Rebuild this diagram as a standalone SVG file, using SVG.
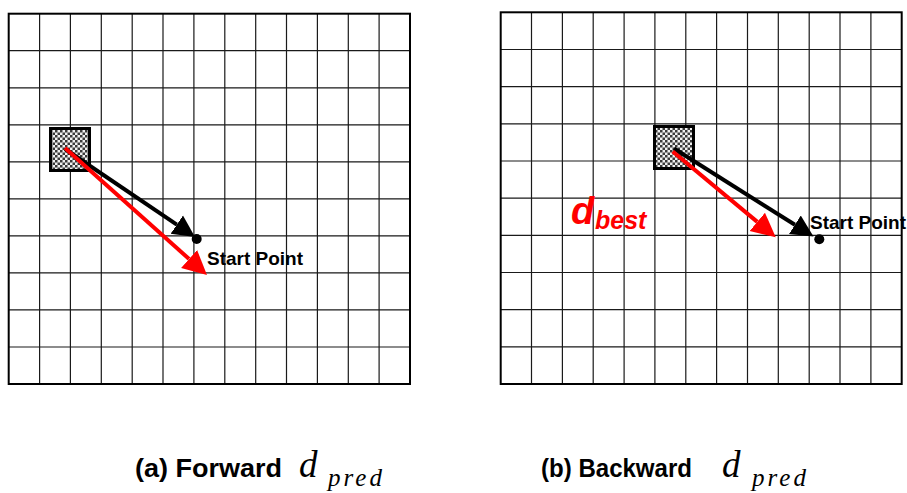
<svg xmlns="http://www.w3.org/2000/svg" width="907" height="493" viewBox="0 0 907 493">
<style>
.grid{fill:none;stroke:#1a1a1a;stroke-width:1.2}
.border{fill:none;stroke:#000;stroke-width:2}
.blk{stroke:#000;stroke-width:4;fill:none}
.red{stroke:#ff0000;stroke-width:4;fill:none}
.sp{font-family:"Liberation Sans",Arial,sans-serif;font-weight:bold;font-size:19px;fill:#000}
.cap{font-family:"Liberation Sans",Arial,sans-serif;font-weight:bold;font-size:25px;fill:#000}
.dm{font-family:"Liberation Serif","Times New Roman",serif;font-style:italic;font-size:37px;fill:#000}
.ds{font-family:"Liberation Serif","Times New Roman",serif;font-style:italic;font-size:25px;letter-spacing:3px;fill:#000}
.sq{fill:url(#chk);stroke:#000;stroke-width:3}
</style>
<defs>
<pattern id="chk" width="5" height="5" patternUnits="userSpaceOnUse">
<rect width="5" height="5" fill="#f0f0f0"/>
<rect width="2.5" height="2.5" fill="#3a3a3a"/>
<rect x="2.5" y="2.5" width="2.5" height="2.5" fill="#3a3a3a"/>
</pattern>
<marker id="ahB" markerUnits="userSpaceOnUse" markerWidth="26" markerHeight="26" refX="0" refY="11" orient="auto" viewBox="0 0 26 22">
<path d="M0,0 L22,11 L0,22 z" fill="#000"/>
</marker>
<marker id="ahR" markerUnits="userSpaceOnUse" markerWidth="26" markerHeight="26" refX="0" refY="12" orient="auto" viewBox="0 0 26 24">
<path d="M0,0 L24,12 L0,24 z" fill="#ff0000"/>
</marker>
</defs>
<rect width="907" height="493" fill="#fff"/>

<g id="grid-left">
<path class="grid" d="M39.6,13.7V384M70.4,13.7V384M101.3,13.7V384M132.2,13.7V384M163,13.7V384M193.9,13.7V384M224.8,13.7V384M255.7,13.7V384M286.5,13.7V384M317.4,13.7V384M348.3,13.7V384M379.1,13.7V384M8.7,50.7H410M8.7,87.8H410M8.7,124.8H410M8.7,161.8H410M8.7,198.9H410M8.7,235.9H410M8.7,272.9H410M8.7,309.9H410M8.7,347H410"/>
<rect class="border" x="8.7" y="13.7" width="401.3" height="370.3"/>
</g>
<g id="grid-right">
<path class="grid" d="M531.5,12.3V384M562.4,12.3V384M593.2,12.3V384M624.1,12.3V384M654.9,12.3V384M685.8,12.3V384M716.6,12.3V384M747.5,12.3V384M778.3,12.3V384M809.2,12.3V384M840,12.3V384M870.9,12.3V384M500.7,49.5H901.7M500.7,86.6H901.7M500.7,123.8H901.7M500.7,161H901.7M500.7,198.2H901.7M500.7,235.3H901.7M500.7,272.5H901.7M500.7,309.7H901.7M500.7,346.8H901.7"/>
<rect class="border" x="500.7" y="12.3" width="401" height="371.7"/>
</g>

<g id="block-left"><rect class="sq" x="50.5" y="128.5" width="39" height="42"/></g>
<g id="block-right"><rect class="sq" x="654.5" y="126.5" width="39" height="42"/></g>

<g id="connectors">
<path class="blk" d="M65,149 L176.8,224.7" marker-end="url(#ahB)"/>
<path class="red" d="M65,148 L189.1,259" marker-end="url(#ahR)"/>
<path class="blk" d="M674,148.5 L794.9,224.8" marker-end="url(#ahB)"/>
<path class="red" d="M672.7,151.5 L757.3,221.9" marker-end="url(#ahR)"/>
</g>

<g id="start-left">
<circle cx="196.7" cy="239" r="5" fill="#000"/>
<text class="sp" x="207" y="265">Start Point</text>
</g>
<g id="start-right">
<circle cx="819.3" cy="239.3" r="5" fill="#000"/>
<text class="sp" x="810" y="228.5">Start Point</text>
</g>

<g id="dbest">
<text x="571" y="223.5" font-family="'Liberation Sans',Arial,sans-serif" font-weight="bold" font-style="italic" font-size="38" fill="#ff0000">d</text>
<text x="595" y="229" font-family="'Liberation Sans',Arial,sans-serif" font-weight="bold" font-style="italic" font-size="25" fill="#ff0000">best</text>
</g>

<g id="caption-a">
<text class="cap" x="135" y="477" textLength="147" lengthAdjust="spacingAndGlyphs">(a) Forward</text>
<text class="dm" x="299" y="477">d</text>
<text class="ds" x="328" y="486">pred</text>
</g>
<g id="caption-b">
<text class="cap" x="541" y="477" textLength="151" lengthAdjust="spacingAndGlyphs">(b) Backward</text>
<text class="dm" x="722" y="477">d</text>
<text class="ds" x="752" y="486">pred</text>
</g>
</svg>
